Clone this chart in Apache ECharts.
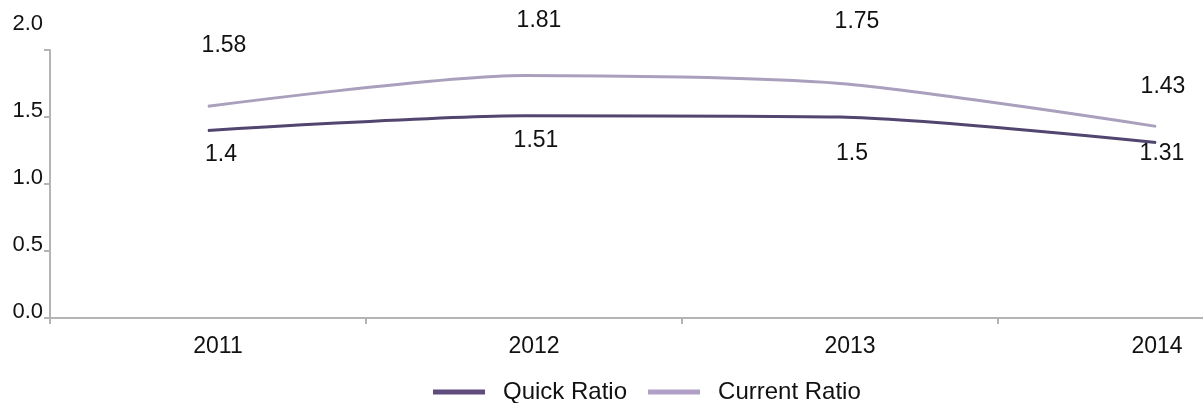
<!DOCTYPE html>
<html>
<head>
<meta charset="utf-8">
<script src="https://cdn.jsdelivr.net/npm/echarts@6/dist/echarts.min.js"></script>
<style>
  html, body { margin: 0; padding: 0; background: #fff; }
  #chart { width: 1203px; height: 403px; }
</style>
</head>
<body>
<div id="chart"></div>
<script>
// Liquidity ratios by year
const years = ['2011', '2012', '2013', '2014'];
const quickRatio = [1.4, 1.51, 1.5, 1.31];
const currentRatio = [1.58, 1.81, 1.75, 1.43];
const yTicks = [0, 0.5, 1.0, 1.5, 2.0];

// label placement relative to each point: [dx, dy]
const quickLabelShift = [[13, 24], [12, 25], [12, 37], [6, 11]];
const currentLabelShift = [[16, -61], [15, -55], [17, -62], [7, -40]];

const FONT = 'Liberation Sans, Arial, sans-serif';
const AXIS_GRAY = '#b4b4b4';
const TEXT = '#111';

function withLabels(values, shifts) {
  return values.map((v, i) => ({
    value: v,
    label: { offset: shifts[i] }
  }));
}

const chart = echarts.init(document.getElementById('chart'), null, { renderer: 'canvas' });

chart.setOption({
  animation: false,
  backgroundColor: '#ffffff',
  textStyle: { fontFamily: FONT },
  // the last category band runs past the right edge of the canvas
  grid: { left: 50, top: 50, bottom: 85, right: -111, outerBoundsMode: 'none', containLabel: false },
  legend: {
    left: 433,
    top: 380,
    padding: 0,
    icon: 'rect',
    itemWidth: 52,
    itemHeight: 5,
    itemGap: 21,
    textStyle: { fontSize: 24, color: TEXT, fontFamily: FONT, padding: [0, 0, 0, 13] },
    data: ['Quick Ratio', 'Current Ratio']
  },
  xAxis: {
    type: 'category',
    data: years,
    boundaryGap: true,
    axisLine: { lineStyle: { color: AXIS_GRAY, width: 2 } },
    axisTick: { show: true, length: 6, lineStyle: { color: AXIS_GRAY, width: 2 } },
    axisLabel: {
      fontSize: 23,
      color: TEXT,
      margin: 17,
      fontFamily: FONT,
      // the last year sits near the canvas edge, so it is not nudged right
      formatter: (v, i) => (i === years.length - 1 ? '{edge|' + v + '}' : '{mid|' + v + '}'),
      rich: {
        mid: { fontSize: 23, color: TEXT, fontFamily: FONT, padding: [0, 0, 0, 20] },
        edge: { fontSize: 23, color: TEXT, fontFamily: FONT, padding: [0, 0, 0, 2] }
      }
    },
    splitLine: { show: false }
  },
  yAxis: {
    type: 'value',
    min: yTicks[0],
    max: yTicks[yTicks.length - 1],
    interval: 0.5,
    axisLine: { show: true, lineStyle: { color: AXIS_GRAY, width: 2 } },
    axisTick: { show: true, length: 6, lineStyle: { color: AXIS_GRAY, width: 2 } },
    splitLine: { show: false },
    axisLabel: {
      fontSize: 22,
      color: TEXT,
      margin: 7,
      lineHeight: 13,
      verticalAlign: 'bottom',
      fontFamily: FONT,
      formatter: v => (v === 2 ? '{top|' + v.toFixed(1) + '}' : v.toFixed(1)),
      rich: {
        top: { fontSize: 22, color: TEXT, fontFamily: FONT, lineHeight: 13, padding: [0, 0, 39, 0] }
      }
    }
  },
  series: [
    {
      name: 'Quick Ratio',
      type: 'line',
      data: withLabels(quickRatio, quickLabelShift),
      smooth: 0.25,
      symbol: 'circle',
      symbolSize: 1,
      lineStyle: { color: '#52456f', width: 3 },
      itemStyle: { color: '#5f4b7e' },
      label: {
        show: true,
        position: 'inside',
        fontSize: 23,
        color: TEXT,
        fontFamily: FONT
      }
    },
    {
      name: 'Current Ratio',
      type: 'line',
      data: withLabels(currentRatio, currentLabelShift),
      smooth: 0.25,
      symbol: 'circle',
      symbolSize: 1,
      lineStyle: { color: '#aaa0bd', width: 3 },
      itemStyle: { color: '#b1a0c6' },
      label: {
        show: true,
        position: 'inside',
        fontSize: 23,
        color: TEXT,
        fontFamily: FONT
      }
    }
  ]
});
</script>
</body>
</html>
